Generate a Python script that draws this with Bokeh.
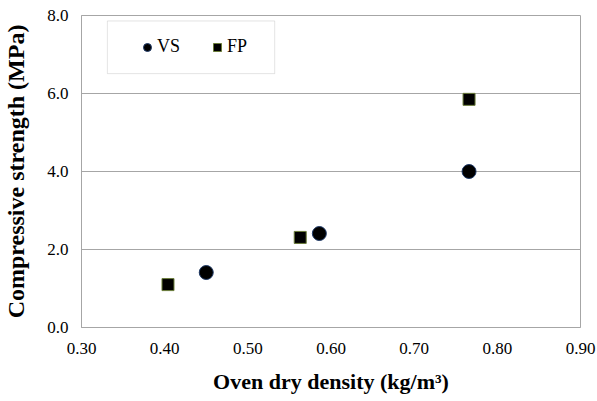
from bokeh.plotting import figure
from bokeh.models import (Range1d, FixedTicker, Legend, LegendItem, BoxAnnotation)
from bokeh.embed import file_html
from bokeh.resources import INLINE

# data
vs_density = [0.450, 0.586, 0.766]
vs_strength = [1.41, 2.41, 4.00]
fp_density = [0.404, 0.563, 0.766]
fp_strength = [1.10, 2.31, 5.85]
x_ticks = [0.30, 0.40, 0.50, 0.60, 0.70, 0.80, 0.90]
y_ticks = [0.0, 2.0, 4.0, 6.0, 8.0]

FONT = "Liberation Serif"

p = figure(width=597, height=401, output_backend="svg", toolbar_location=None,
           x_range=Range1d(0.30, 0.90), y_range=Range1d(0.0, 8.0),
           min_border_left=79, min_border_right=17, min_border_top=15,
           min_border_bottom=74)
p.background_fill_color = "white"
p.border_fill_color = "white"
p.outline_line_color = "#a6a6a6"
p.outline_line_width = 1

p.xgrid.visible = False
p.ygrid.grid_line_color = "#a6a6a6"
p.ygrid.grid_line_width = 1

for ax in (p.xaxis[0], p.yaxis[0]):
    ax.axis_line_color = "#a6a6a6"
    ax.major_tick_line_color = None
    ax.minor_tick_line_color = None
    ax.major_tick_in = 0
    ax.major_tick_out = 0
    ax.major_label_text_font = FONT
    ax.major_label_text_font_size = "17px"
    ax.major_label_text_color = "#000000"
    ax.axis_label_text_font = FONT
    ax.axis_label_text_font_style = "bold"
    ax.axis_label_text_color = "#000000"

p.xaxis.ticker = FixedTicker(ticks=x_ticks)
p.yaxis.ticker = FixedTicker(ticks=y_ticks)
p.xaxis.major_label_overrides = {t: f"{t:.2f}" for t in x_ticks}
p.yaxis.major_label_overrides = {t: f"{t:.1f}" for t in y_ticks}
p.xaxis.major_label_standoff = 15
p.yaxis.major_label_standoff = 13
p.xaxis.axis_label = "Oven dry density (kg/m³)"
p.yaxis.axis_label = "Compressive strength (MPa)"
p.xaxis.axis_label_text_font_size = "22px"
p.yaxis.axis_label_text_font_size = "24px"
p.xaxis.axis_label_standoff = 12
p.yaxis.axis_label_standoff = 15

vs = p.scatter(vs_density, vs_strength, marker="circle", size=14,
               fill_color="#000000", line_color="#1f3a68", line_width=1)
fp = p.scatter(fp_density, fp_strength, marker="square", size=12,
               fill_color="#000000", line_color="#6b7d3a", line_width=1)

box = BoxAnnotation(left=0.3311, right=0.5323, top=7.86, bottom=6.51,
                    fill_color="white", fill_alpha=1.0,
                    line_color="#a6a6a6", line_width=1, level="annotation")
p.add_layout(box)

legend = Legend(items=[LegendItem(label="VS", renderers=[vs]),
                       LegendItem(label="FP", renderers=[fp])],
                orientation="horizontal", location=(46, 260),
                border_line_alpha=0, background_fill_alpha=0,
                padding=10, spacing=27, glyph_width=20, glyph_height=20,
                label_standoff=-9, label_text_font=FONT,
                label_text_font_size="18px", label_text_color="#000000")
p.add_layout(legend, "center")

open("out.html", "w").write(file_html(p, INLINE))
